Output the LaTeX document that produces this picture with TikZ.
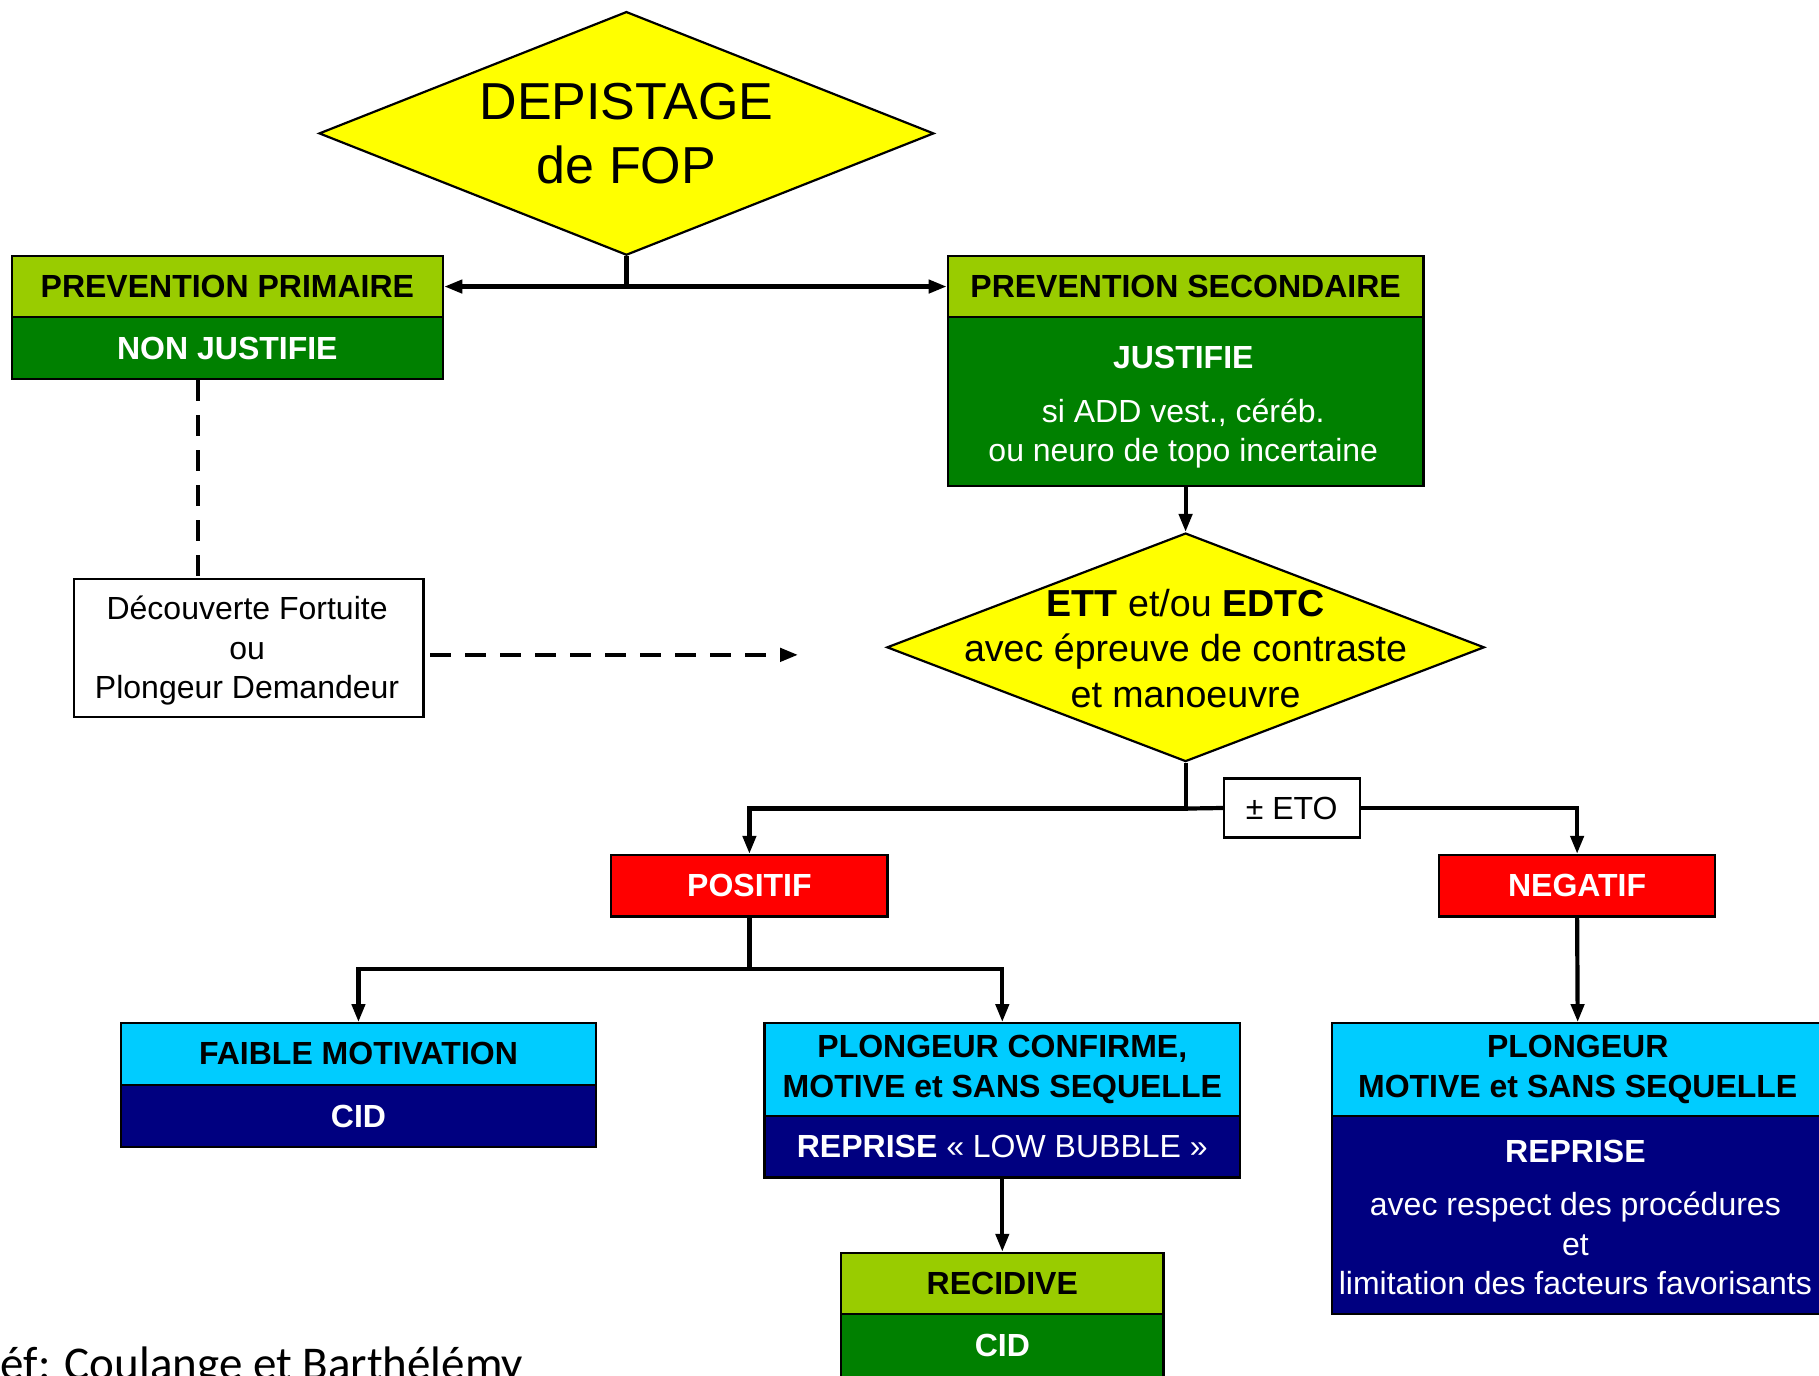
\documentclass[tikz,border=0pt]{standalone}
\usepackage{fontspec}
\setmainfont{Liberation Sans}
\newfontfamily\calib{Carlito}
\usetikzlibrary{shapes.geometric,arrows.meta,calc}
\definecolor{lgreen}{HTML}{99CC00}
\definecolor{dgreen}{HTML}{008000}
\definecolor{ycol}{HTML}{FFFF00}
\definecolor{rcol}{HTML}{FF0000}
\definecolor{ccol}{HTML}{00CCFF}
\definecolor{ncol}{HTML}{000080}
\begin{document}
\begin{tikzpicture}[x=0.58pt, y=-0.58pt,
  band/.style={draw=black, line width=1.1pt, inner sep=0pt, align=center,
    font=\fontsize{16}{19.7}\selectfont},
  bw/.style={minimum width=#1*0.58pt},
  bh/.style={minimum height=#1*0.58pt},
  dia/.style={diamond, draw=black, line width=1.1pt, fill=ycol, inner sep=0pt},
  tip/.style={-{Triangle[length=9pt,width=6.5pt]}},
  conn/.style={line width=2.1pt, tip},
  plain/.style={line width=2.1pt},
  dashconn/.style={line width=2.1pt, dash pattern=on 10.5pt off 7pt},
  txt/.style={inner sep=0pt, align=center, font=\fontsize{16}{19.7}\selectfont}
]
\useasboundingbox (0,0) rectangle (1568,1186);
\fill[white] (0,0) rectangle (1568,1186);

% top diamond
\node[dia, minimum width=530*0.58pt, minimum height=210*0.58pt] (dep) at (540,115) {};
\node[txt, font=\fontsize{26}{32}\selectfont] (depT) at (dep.center) {DEPISTAGE\\de FOP};

% prevention primaire
\node[band, fill=lgreen, bw=372, bh=52] (ppT) at (196,247) {\bfseries PREVENTION PRIMAIRE};
\node[band, fill=dgreen, text=white, bw=372, bh=54] (ppB) at (196,300) {\bfseries NON JUSTIFIE};

% prevention secondaire
\node[band, fill=lgreen, bw=410, bh=52] (psT) at (1022,247) {\bfseries PREVENTION SECONDAIRE};
\node[band, fill=dgreen, bw=410, bh=146] (psB) at (1022,346) {};
\node[txt, text=white] (psBT) at (1020,351)
  {\bfseries JUSTIFIE\\[7pt] si ADD vest., céréb.\\ ou neuro de topo incertaine};

% second diamond
\node[dia, minimum width=515*0.58pt, minimum height=197*0.58pt] (ett) at (1022,558) {};
\node[txt, font=\fontsize{18.8}{22.9}\selectfont] (ettT) at (1022,559)
  {\textbf{ETT} et/ou \textbf{EDTC}\\avec épreuve de contraste\\et manoeuvre};

% decouverte fortuite
\node[band, fill=white, bw=301, bh=119] (df) at (214.5,558.5) {};
\node[txt] (dfT) at (213,561) {Découverte Fortuite\\ou\\Plongeur Demandeur};
\coordinate (dx) at (171,0);
\coordinate (dfend) at (688,564.5);

% eto
\node[band, fill=white, bw=117, bh=51] (eto) at (1113.5,696.5) {± ETO};
\coordinate (sp1) at (1022,697);

% positif / negatif
\node[band, fill=rcol, text=white, bw=238, bh=53] (pos) at (646,763.5) {\bfseries POSITIF};
\node[band, fill=rcol, text=white, bw=238, bh=53] (neg) at (1359.5,763.5) {\bfseries NEGATIF};
\coordinate (sp2) at (646,835);

% faible motivation
\node[band, fill=ccol, bw=410, bh=53] (fmT) at (309,908.5) {\bfseries FAIBLE MOTIVATION};
\node[band, fill=ncol, text=white, bw=410, bh=54] (fmB) at (309,962) {\bfseries CID};

% plongeur confirme
\node[band, fill=ccol, bw=410, bh=80] (pcT) at (864,922) {\bfseries PLONGEUR CONFIRME,\\\bfseries MOTIVE et SANS SEQUELLE};
\node[band, fill=ncol, text=white, bw=410, bh=53] (pcB) at (864,988.5) {\textbf{REPRISE} «~LOW BUBBLE~»};

% recidive
\node[band, fill=lgreen, bw=278, bh=53] (recT) at (864,1106.5) {\bfseries RECIDIVE};
\node[band, fill=dgreen, text=white, bw=278, bh=54] (recB) at (864,1160) {\bfseries CID};

% plongeur motive
\node[band, fill=ccol, bw=424, bh=80] (pmT) at (1360,922) {\bfseries PLONGEUR\\\bfseries MOTIVE et SANS SEQUELLE};
\node[band, fill=ncol, text=white, bw=424, bh=171] (pmB) at (1360,1047.5) {};
\node[txt, text=white] (pmBT) at (1358,1049.5)
  {\bfseries REPRISE\\[7pt] avec respect des procédures\\et\\limitation des facteurs favorisants};

% connectors
\draw[conn] (dep.south) |- (ppT.east);
\draw[conn] (dep.south) |- (psT.west);
\draw[conn] (psB.south) -- (ett.north);
\draw[dashconn] (ppB.south -| dx) -- (df.north -| dx);
\draw[dashconn, tip] ([shift={(5,6)}]df.east) -- (dfend);
\draw[conn] (ett.south) -- (sp1) -| (pos.north);
\draw[plain] (sp1) -- (eto.west);
\draw[conn] (eto.east) -| (neg.north);
\draw[conn] (pos.south) -- (sp2) -| (fmT.north);
\draw[conn] (sp2) -| (pcT.north);
\draw[conn] (pcB.south) -- (recT.north);
\draw[conn] (neg.south) -- (pmT.north);

% reference
\node[inner sep=0pt, anchor=base west, font=\calib\fontsize{23.5}{28}\selectfont] (ref) at (-21,1189) {Réf: Coulange et Barthélémy};
\end{tikzpicture}
\end{document}
